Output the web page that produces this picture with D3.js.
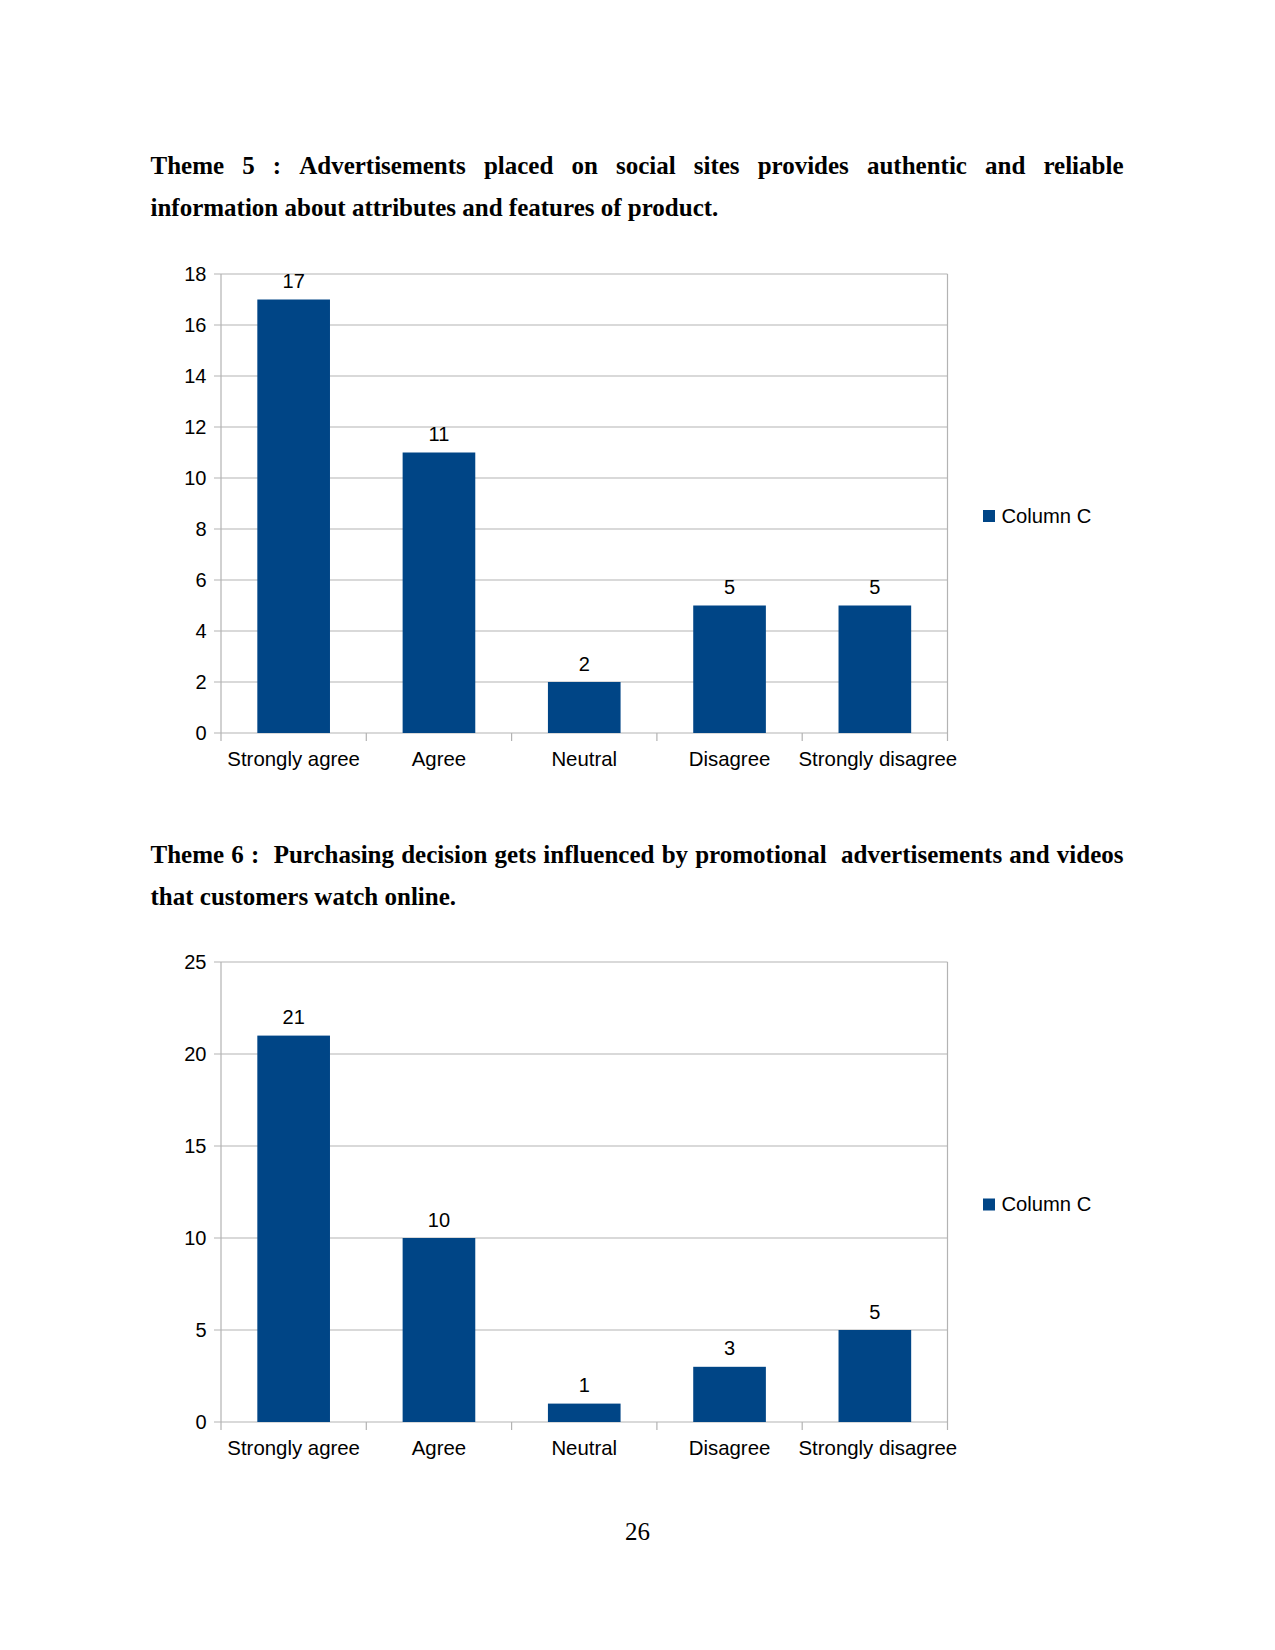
<!DOCTYPE html>
<html><head><meta charset="utf-8">
<script src="https://cdn.jsdelivr.net/npm/d3@7"></script>
<style>html,body{margin:0;padding:0;background:#fff}</style>
</head><body>
<svg id="page" width="1275" height="1650"></svg>
<script>
const categories = ["Strongly agree","Agree","Neutral","Disagree","Strongly disagree"];
const theme5Values = [17, 11, 2, 5, 5];
const theme6Values = [21, 10, 1, 3, 5];
const theme5Ticks = [0,2,4,6,8,10,12,14,16,18];
const theme6Ticks = [0,5,10,15,20,25];
const seriesName = "Column C";
const theme5Title = ["Theme  5  :  Advertisements  placed  on  social  sites  provides  authentic  and  reliable", "information about attributes and features of product."];
const theme6Title = ["Theme 6 :  Purchasing decision gets influenced by promotional  advertisements and videos", "that customers watch online."];
const pageNumber = "26";

const svg = d3.select("#page");
const serif = "'Liberation Serif','Times New Roman',serif";
const sans = "'Liberation Sans',Arial,sans-serif";

function justifyLine(text, x0, x1, y, justify) {
  const g = svg.append("text").attr("y", y).attr("font-family", serif)
    .attr("font-weight", "bold").attr("font-size", 25).attr("fill", "#000");
  if (!justify) { g.attr("x", x0).text(text); return; }
  const words = text.split(" ");
  const tmp = svg.append("text").attr("font-family", serif).attr("font-weight","bold").attr("font-size",25);
  const widths = words.map(w => { tmp.text(w); return w ? tmp.node().getComputedTextLength() : 0; });
  tmp.remove();
  const total = d3.sum(widths);
  const gaps = words.length - 1;
  const gap = (x1 - x0 - total) / gaps;
  let x = x0;
  words.forEach((w, i) => {
    if (w) g.append("tspan").attr("x", x).attr("y", y).text(w);
    x += widths[i] + gap;
  });
}

function drawChart(values, ticks, top, bottom) {
  const left = 221, right = 947.5;
  const x = d3.scaleBand().domain(categories).range([left, right]).paddingInner(0.5).paddingOuter(0.25);
  const xb = d3.scaleBand().domain(categories).range([left, right]);
  const y = d3.scaleLinear().domain([0, d3.max(ticks)]).range([bottom, top]);
  const grid = "#b3b3b3";
  svg.append("g").selectAll("line").data(ticks).join("line")
    .attr("x1", left - 7).attr("x2", right).attr("y1", d => y(d)).attr("y2", d => y(d))
    .attr("stroke", grid).attr("stroke-width", 1.2);
  svg.append("line").attr("x1", left).attr("x2", left).attr("y1", top).attr("y2", bottom + 8).attr("stroke", grid).attr("stroke-width", 1.2);
  svg.append("line").attr("x1", right).attr("x2", right).attr("y1", top).attr("y2", bottom + 8).attr("stroke", grid).attr("stroke-width", 1.2);
  const bounds = categories.map(c => xb(c)).slice(1);
  svg.append("g").selectAll("line").data(bounds).join("line")
    .attr("x1", d => d).attr("x2", d => d).attr("y1", bottom).attr("y2", bottom + 8)
    .attr("stroke", grid).attr("stroke-width", 1.2);
  svg.append("g").selectAll("text").data(ticks).join("text")
    .attr("x", 206.5).attr("y", d => y(d) + 7).attr("text-anchor", "end")
    .attr("font-family", sans).attr("font-size", 20).attr("fill", "#000").text(d => d);
  svg.append("g").selectAll("rect").data(values).join("rect")
    .attr("x", (d, i) => x(categories[i])).attr("width", x.bandwidth())
    .attr("y", d => y(d)).attr("height", d => bottom - y(d)).attr("fill", "#004586");
  svg.append("g").selectAll("text").data(values).join("text")
    .attr("x", (d, i) => x(categories[i]) + x.bandwidth() / 2).attr("y", d => y(d) - 11.5)
    .attr("text-anchor", "middle").attr("font-family", sans).attr("font-size", 20).attr("fill", "#000").text(d => d);
  svg.append("g").selectAll("text").data(categories).join("text")
    .attr("x", d => xb(d) + xb.bandwidth() / 2 + (d === "Strongly disagree" ? 3 : 0)).attr("y", bottom + 33)
    .attr("text-anchor", "middle").attr("font-family", sans).attr("font-size", 20.4).attr("fill", "#000").text(d => d);
  const ly = (top + bottom) / 2 + 12;
  svg.append("rect").attr("x", 983).attr("y", ly - 5.5).attr("width", 12).attr("height", 12).attr("fill", "#004586");
  svg.append("text").attr("x", 1001.5).attr("y", ly + 7).attr("font-family", sans).attr("font-size", 20.2).attr("fill", "#000").text(seriesName);
}

justifyLine(theme5Title[0], 150.5, 1123.5, 173.5, true);
justifyLine(theme5Title[1], 150.5, 1123.5, 215.5, false);
drawChart(theme5Values, theme5Ticks, 274, 733);

justifyLine(theme6Title[0], 150.5, 1123.5, 862.5, true);
justifyLine(theme6Title[1], 150.5, 1123.5, 904.5, false);
drawChart(theme6Values, theme6Ticks, 962, 1422);

svg.append("text").attr("x", 637.5).attr("y", 1540).attr("text-anchor", "middle")
  .attr("font-family", serif).attr("font-size", 25).attr("fill", "#000").text(pageNumber);
</script>
</body></html>
